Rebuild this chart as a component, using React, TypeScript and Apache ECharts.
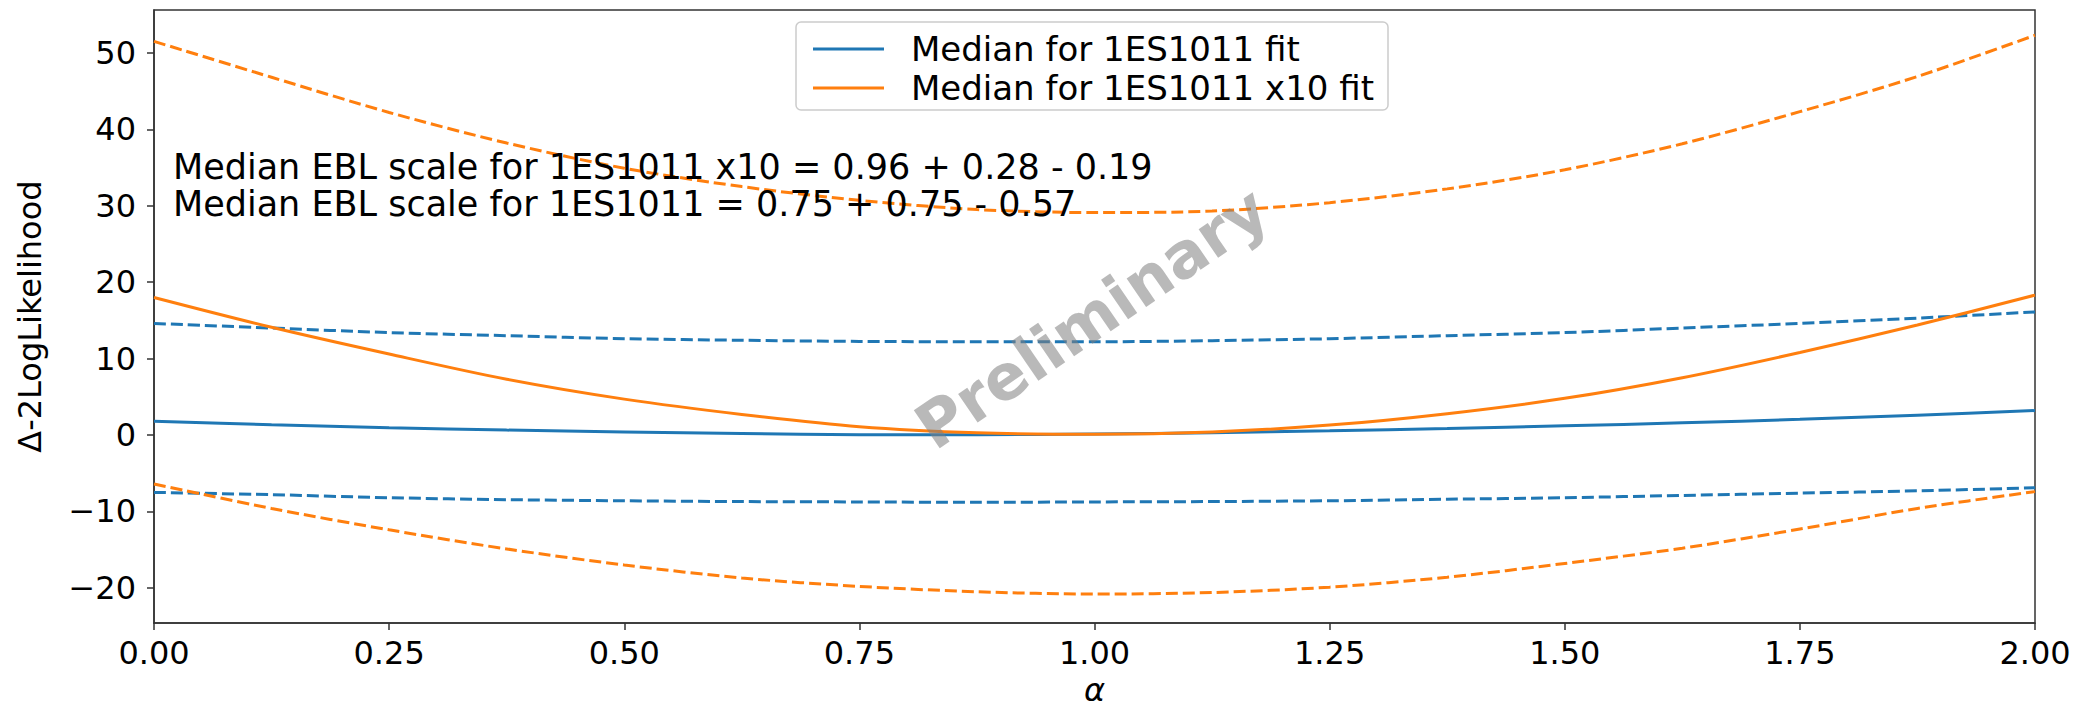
import React, { useEffect, useRef } from "react";
import * as echarts from "echarts";

// alpha (EBL scale) sample points
const alpha = [0, 0.125, 0.25, 0.375, 0.5, 0.625, 0.75, 0.875, 1.0, 1.125, 1.25, 1.375, 1.5, 1.625, 1.75, 1.875, 2.0];

// Median for 1ES1011 fit (blue)
const fitMedian = [1.8, 1.35, 0.95, 0.65, 0.4, 0.2, 0.05, 0.05, 0.15, 0.3, 0.55, 0.85, 1.2, 1.6, 2.05, 2.6, 3.2];
const fitUpper = [14.6, 14.0, 13.4, 13.0, 12.6, 12.4, 12.25, 12.2, 12.2, 12.35, 12.6, 13.0, 13.4, 14.0, 14.6, 15.3, 16.1];
const fitLower = [-7.5, -7.8, -8.2, -8.45, -8.6, -8.7, -8.75, -8.8, -8.75, -8.7, -8.6, -8.4, -8.2, -7.9, -7.6, -7.3, -6.9];

// Median for 1ES1011 x10 fit (orange)
const x10Median = [18.0, 14.1, 10.6, 7.3, 4.7, 2.7, 1.1, 0.3, 0.1, 0.4, 1.3, 2.8, 4.8, 7.5, 10.8, 14.4, 18.3];
const x10Upper = [51.5, 46.8, 42.2, 38.2, 34.9, 32.5, 30.7, 29.5, 29.1, 29.3, 30.4, 32.2, 34.7, 38.1, 42.3, 46.9, 52.3];
const x10Lower = [-6.4, -9.6, -12.4, -14.9, -17.0, -18.7, -19.8, -20.5, -20.8, -20.6, -19.9, -18.6, -16.8, -14.8, -12.3, -9.6, -7.4];

const xTicks = [0, 0.25, 0.5, 0.75, 1.0, 1.25, 1.5, 1.75, 2.0];
const yTicks = [-20, -10, 0, 10, 20, 30, 40, 50];

const legendNames = ["Median for 1ES1011 fit", "Median for 1ES1011 x10 fit"];
const annotations = [
  "Median EBL scale for 1ES1011 x10 = 0.96 + 0.28 - 0.19",
  "Median EBL scale for 1ES1011 = 0.75 + 0.75 - 0.57",
];
const watermark = "Preliminary";

const BLUE = "#1f77b4";
const ORANGE = "#ff7f0e";
const FONT = "DejaVu Sans";

const zip = (ys: number[]) => alpha.map((x, i) => [x, ys[i]]);

export default function App() {
  const ref = useRef<HTMLDivElement>(null);
  useEffect(() => {
    document.body.style.margin = "0";
    if (!ref.current) return;
    const chart = echarts.init(ref.current, undefined, { renderer: "svg" });
    const line = (name: string, data: number[], color: string, dashed: boolean, z: number) => ({
      name,
      type: "line",
      data: zip(data),
      showSymbol: false,
      symbol: "none",
      smooth: 0.3,
      z,
      lineStyle: { color, width: 3, type: dashed ? [12, 5] : "solid" },
      itemStyle: { color },
    });
    chart.setOption({
      animation: false,
      backgroundColor: "#fff",
      textStyle: { fontFamily: FONT },
      grid: {
        left: 154,
        right: 45,
        top: 10,
        bottom: 86,
        show: true,
        borderColor: "#333",
        borderWidth: 1.5,
        backgroundColor: "transparent",
      },
      xAxis: {
        type: "value",
        min: 0,
        max: 2,
        interval: 0.25,
        name: "α",
        nameLocation: "middle",
        nameGap: 50,
        nameTextStyle: { fontSize: 32, fontStyle: "italic", color: "#000", fontFamily: FONT },
        axisLine: { show: true, onZero: false, lineStyle: { color: "#333", width: 1.5 } },
        axisTick: { show: true, length: 7, inside: false, lineStyle: { color: "#333", width: 1.5 }, customValues: xTicks },
        axisLabel: {
          customValues: xTicks,
          margin: 14,
          fontSize: 32,
          color: "#000",
          fontFamily: FONT,
          formatter: (v: number) => v.toFixed(2),
        },
        splitLine: { show: false },
      },
      yAxis: {
        type: "value",
        min: -24.6,
        max: 55.6,
        splitNumber: 8,
        name: "Δ-2LogLikelihood",
        nameLocation: "middle",
        nameRotate: 90,
        nameGap: 108,
        nameTextStyle: { fontSize: 32, color: "#000", fontFamily: FONT },
        axisLine: { show: true, onZero: false, lineStyle: { color: "#333", width: 1.5 } },
        axisTick: { show: true, length: 7, lineStyle: { color: "#333", width: 1.5 }, customValues: yTicks },
        axisLabel: {
          customValues: yTicks,
          margin: 18,
          fontSize: 32,
          color: "#000",
          fontFamily: FONT,
          formatter: (v: number) => String(v).replace("-", "\u2212"),
        },
        splitLine: { show: false },
      },
      legend: {
        orient: "vertical",
        left: 796,
        top: 22,
        padding: [10, 14, 5, 17],
        itemGap: 5,
        itemWidth: 71,
        itemHeight: 3,
        backgroundColor: "rgba(255,255,255,0.8)",
        borderColor: "#cccccc",
        borderWidth: 1.5,
        borderRadius: 5,
        data: legendNames.map((n) => ({ name: n, icon: "rect" })),
        textStyle: { fontSize: 34, color: "#000", fontFamily: FONT, lineHeight: 30, padding: [0, 0, 0, 22] },
      },
      graphic: [
        {
          type: "text",
          left: 173,
          top: 149,
          z: 50,
          style: { text: annotations[0], fontSize: 35, fontFamily: FONT, fill: "#000" },
        },
        {
          type: "text",
          left: 173,
          top: 186,
          z: 50,
          style: { text: annotations[1], fontSize: 35, fontFamily: FONT, fill: "#000" },
        },
        {
          type: "text",
          x: 1092,
          y: 318,
          rotation: 0.6,
          z: 60,
          style: {
            text: watermark,
            fontSize: 63,
            fontWeight: "bold",
            fontFamily: FONT,
            fill: "rgba(128,128,128,0.55)",
            align: "center",
            verticalAlign: "middle",
          },
        },
      ],
      series: [
        line(legendNames[0], fitMedian, BLUE, false, 3),
        line(legendNames[1], x10Median, ORANGE, false, 4),
        line("fit upper", fitUpper, BLUE, true, 2),
        line("fit lower", fitLower, BLUE, true, 2),
        line("x10 upper", x10Upper, ORANGE, true, 2),
        line("x10 lower", x10Lower, ORANGE, true, 2),
      ],
    });
    return () => chart.dispose();
  }, []);
  return <div ref={ref} style={{ width: 2080, height: 711 }} />;
}
